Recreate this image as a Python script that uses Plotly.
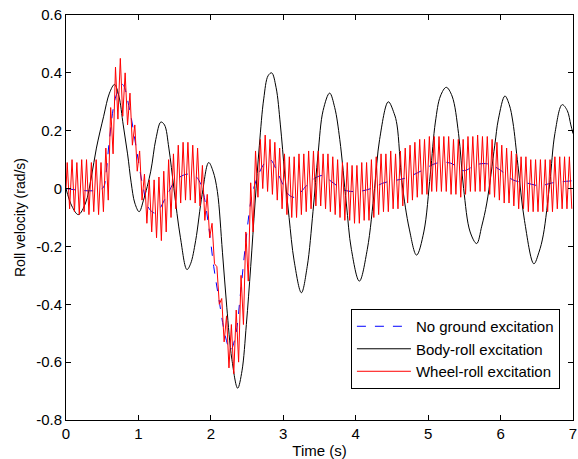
import plotly.graph_objects as go

# ---- data ----
time_none = [0.0, 0.50, 0.55, 0.60, 0.69, 0.78, 0.88, 0.97, 1.06, 1.15, 1.24, 1.38, 1.52, 1.68, 1.80,
             1.88, 1.97, 2.04, 2.11, 2.20, 2.27, 2.34, 2.41, 2.48, 2.57, 2.66, 2.75, 2.82, 2.93, 3.07,
             3.16, 3.32, 3.43, 3.55, 3.66, 3.84, 4.03, 4.21, 4.39, 4.67, 4.85, 5.12, 5.31, 5.49, 5.67,
             5.83, 5.99, 6.17, 6.35, 6.54, 6.72, 6.95, 7.0]
vel_none = [0.0, 0.0, 0.05, 0.17, 0.32, 0.36, 0.27, 0.14, 0.01, -0.07, -0.085, -0.03, 0.03, 0.05, 0.04,
            0.0, -0.13, -0.27, -0.38, -0.51, -0.56, -0.51, -0.36, -0.19, -0.02, 0.05, 0.09, 0.10, 0.05, -0.02,
            -0.03, 0.01, 0.035, 0.045, 0.025, -0.005, -0.01, 0.0, 0.02, 0.035, 0.054, 0.088, 0.088, 0.062, 0.083,
            0.085, 0.065, 0.03, 0.02, 0.01, 0.02, 0.026, 0.027]

time_body = [0.00, 0.08, 0.17, 0.27, 0.35, 0.42, 0.52, 0.60, 0.67, 0.73, 0.79, 0.85, 0.90, 0.95, 1.01,
             1.07, 1.17, 1.24, 1.31, 1.36, 1.42, 1.49, 1.58, 1.67, 1.72, 1.79, 1.88, 1.97, 2.03, 2.09,
             2.16, 2.22, 2.29, 2.37, 2.43, 2.49, 2.55, 2.61, 2.67, 2.73, 2.79, 2.84, 2.90, 2.96, 3.02,
             3.08, 3.15, 3.25, 3.33, 3.41, 3.48, 3.55, 3.64, 3.71, 3.78, 3.87, 3.94, 4.05, 4.16, 4.26,
             4.33, 4.45, 4.53, 4.57, 4.64, 4.74, 4.84, 4.94, 5.03, 5.10, 5.17, 5.25, 5.33, 5.42, 5.49,
             5.58, 5.67, 5.74, 5.81, 5.92, 5.97, 6.06, 6.12, 6.17, 6.24, 6.33, 6.46, 6.53, 6.59, 6.68,
             6.75, 6.85, 6.92, 6.97, 7.00]
vel_body = [0.00, -0.06, -0.09, -0.05, 0.04, 0.14, 0.25, 0.33, 0.36, 0.32, 0.22, 0.12, 0.02, -0.05, -0.08,
            -0.04, 0.06, 0.17, 0.23, 0.22, 0.14, 0.00, -0.17, -0.28, -0.26, -0.18, -0.02, 0.09, 0.06, -0.01,
            -0.22, -0.41, -0.59, -0.69, -0.63, -0.47, -0.27, -0.05, 0.15, 0.31, 0.39, 0.40, 0.35, 0.22, 0.05,
            -0.10, -0.25, -0.36, -0.27, -0.08, 0.12, 0.27, 0.33, 0.28, 0.17, -0.05, -0.21, -0.32, -0.21, 0.00,
            0.17, 0.30, 0.26, 0.22, 0.02, -0.14, -0.23, -0.15, 0.05, 0.23, 0.32, 0.35, 0.32, 0.19, 0.00,
            -0.15, -0.19, -0.13, -0.05, 0.15, 0.24, 0.32, 0.29, 0.23, 0.08, -0.11, -0.26, -0.22, -0.16, 0.02,
            0.19, 0.29, 0.27, 0.22, 0.19]

wheel_period = 1 / 15  # oscillation period (s)
wheel_hi = [0.09, 0.10, 0.09, 0.10, 0.10, 0.09, 0.10, 0.09, 0.14, 0.28,
            0.42, 0.45, 0.40, 0.33, 0.22, 0.13, 0.05, 0.03, 0.03, 0.04,
            0.06, 0.10, 0.12, 0.15, 0.16, 0.16, 0.15, 0.14, 0.08, -0.02,
            -0.12, -0.27, -0.38, -0.44, -0.47, -0.42, -0.30, -0.15, 0.02, 0.13,
            0.17, 0.185, 0.17, 0.16, 0.14, 0.12, 0.11, 0.11, 0.12, 0.12,
            0.13, 0.13, 0.13, 0.12, 0.12, 0.11, 0.10, 0.09, 0.09, 0.08,
            0.08, 0.09, 0.09, 0.10, 0.11, 0.12, 0.12, 0.13, 0.12, 0.13,
            0.14, 0.15, 0.16, 0.17, 0.17, 0.18, 0.18, 0.18, 0.18, 0.18,
            0.17, 0.17, 0.17, 0.18, 0.18, 0.185, 0.18, 0.18, 0.17, 0.16,
            0.15, 0.14, 0.13, 0.12, 0.11, 0.11, 0.10, 0.10, 0.10, 0.10,
            0.10, 0.11, 0.11, 0.11, 0.11]
wheel_lo = [-0.07, -0.08, -0.09, -0.08, -0.09, -0.08, -0.09, -0.08, -0.04, 0.12,
            0.24, 0.25, 0.22, 0.15, 0.06, -0.04, -0.12, -0.15, -0.17, -0.18,
            -0.15, -0.10, -0.07, -0.05, -0.04, -0.04, -0.05, -0.06, -0.11, -0.17,
            -0.26, -0.40, -0.53, -0.62, -0.64, -0.60, -0.47, -0.32, -0.15, -0.03,
            0.0, -0.01, -0.02, -0.04, -0.07, -0.09, -0.10, -0.10, -0.09, -0.08,
            -0.07, -0.06, -0.06, -0.07, -0.08, -0.09, -0.10, -0.11, -0.11, -0.12,
            -0.12, -0.11, -0.11, -0.10, -0.09, -0.08, -0.08, -0.07, -0.07, -0.06,
            -0.05, -0.04, -0.03, -0.02, -0.02, -0.01, -0.01, -0.01, -0.01, -0.02,
            -0.02, -0.03, -0.02, -0.01, -0.01, -0.01, -0.01, -0.02, -0.03, -0.04,
            -0.05, -0.05, -0.06, -0.07, -0.07, -0.08, -0.08, -0.08, -0.08, -0.08,
            -0.08, -0.07, -0.07, -0.07, -0.07]

x_ticks = [0, 1, 2, 3, 4, 5, 6, 7]
y_ticks = [-0.8, -0.6, -0.4, -0.2, 0, 0.2, 0.4, 0.6]
y_ticktext = ["-0.8", "-0.6", "-0.4", "-0.2", "0", "0.2", "0.4", "0.6"]

# ---- build wheel-roll series (peak/trough pairs per cycle) ----
wheel_t = [0.0]
wheel_v = [0.0]
for k, (hi, lo) in enumerate(zip(wheel_hi, wheel_lo)):
    wheel_t += [(k + 0.25) * wheel_period, (k + 0.75) * wheel_period]
    wheel_v += [hi, lo]

FONT = "Liberation Sans, Arial"

fig = go.Figure()
fig.add_trace(go.Scatter(x=time_none, y=vel_none, mode="lines", name="No ground excitation",
                         line=dict(color="#0000ff", width=1, dash="dash"), line_shape="spline"))
fig.add_trace(go.Scatter(x=time_body, y=vel_body, mode="lines", name="Body-roll excitation",
                         line=dict(color="#000000", width=1), line_shape="spline"))
fig.add_trace(go.Scatter(x=wheel_t, y=wheel_v, mode="lines", name="Wheel-roll excitation",
                         line=dict(color="#ff0000", width=1)))

axis_common = dict(showgrid=False, zeroline=False, showline=True, linecolor="black", linewidth=1,
                   mirror="ticks", ticks="inside", ticklen=5, tickcolor="black", tickwidth=1,
                   ticklabeloverflow="allow",
                   tickfont=dict(family=FONT, size=15, color="black"))

fig.update_layout(
    width=578, height=459,
    margin=dict(l=66, r=1, t=15, b=39),
    paper_bgcolor="white", plot_bgcolor="white",
    font=dict(family=FONT, size=15, color="black"),
    xaxis=dict(range=[0, 7], tickvals=x_ticks,
               title=dict(text="Time (s)", standoff=4, font=dict(family=FONT, size=15, color="black")),
               **axis_common),
    yaxis=dict(range=[-0.8, 0.6], tickvals=y_ticks, ticktext=y_ticktext,
               title=dict(text="Roll velocity (rad/s)", standoff=7, font=dict(family=FONT, size=14, color="black")),
               **axis_common),
    legend=dict(x=0.562, y=0.274, xanchor="left", yanchor="top", bordercolor="black", borderwidth=1,
                bgcolor="white", font=dict(family=FONT, size=15, color="black"),
                tracegroupgap=0, itemwidth=54),
    showlegend=True,
)

fig.write_html("out.html")
